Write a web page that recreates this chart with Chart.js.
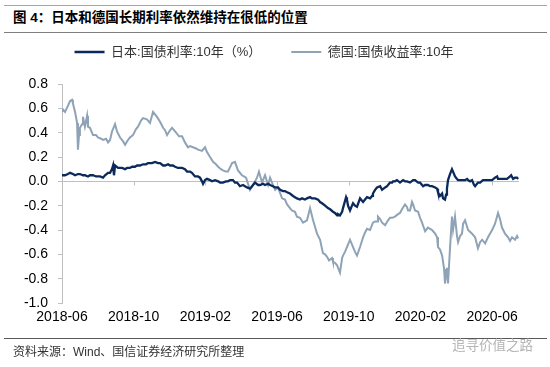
<!DOCTYPE html>
<html><head><meta charset="utf-8">
<script src="https://cdn.jsdelivr.net/npm/chart.js@4/dist/chart.umd.min.js"></script>
<style>
html,body{margin:0;padding:0;background:#fff;}
#wrap{position:relative;width:550px;height:367px;overflow:hidden;background:#fff;}
#c{position:absolute;left:0;top:0;}
.hl{position:absolute;left:4px;width:543px;height:0;}
#title{position:absolute;left:13px;top:9px;font:bold 13.5px "Liberation Sans","Noto Sans CJK SC";color:#000;white-space:nowrap;line-height:18px;}
#src{position:absolute;left:13px;top:344px;font:12px "Liberation Sans","Noto Sans CJK SC";color:#333;white-space:nowrap;line-height:16px;}
#wm{position:absolute;left:452px;top:335px;font:13.5px "Noto Sans CJK SC";color:#b5b5b5;white-space:nowrap;line-height:18px;}
</style></head>
<body>
<div id="wrap">
<div class="hl" style="top:5px;border-top:1px solid #a6a6a6;"></div>
<div id="title">图&nbsp;4：日本和德国长期利率依然维持在很低的位置</div>
<div class="hl" style="top:32px;border-top:1px solid #7f7f7f;"></div>
<canvas id="c" width="550" height="367"></canvas>
<div class="hl" style="top:338px;border-top:1px solid #595959;"></div>
<div id="src">资料来源：Wind、国信证券经济研究所整理</div>
<div id="wm">追寻价值之路</div>
</div>
<script>
// x positions: months since 2018-06
const tickMonths = [0,4,8,12,16,20,24];
const tickLabels = ['2018-06','2018-10','2019-02','2019-06','2019-10','2020-02','2020-06'];
const seriesNames = ['日本:国债利率:10年（%）','德国:国债收益率:10年'];

const jpMonths = [0.00,0.17,0.33,0.45,0.61,0.73,0.89,1.00,1.17,1.28,1.45,1.56,1.73,1.90,2.12,2.29,2.40,2.57,2.68,2.79,2.85,2.90,2.96,3.13,3.35,3.52,3.63,3.79,3.91,4.07,4.19,4.35,4.52,4.69,4.80,4.91,5.02,5.19,5.36,5.47,5.64,5.75,5.92,6.03,6.19,6.31,6.47,6.70,6.86,6.98,7.14,7.25,7.42,7.59,7.70,7.81,7.87,7.98,8.09,8.26,8.37,8.54,8.71,8.82,8.98,9.15,9.26,9.38,9.54,9.65,9.77,9.93,10.10,10.32,10.49,10.66,10.77,10.94,11.05,11.22,11.33,11.50,11.61,11.77,11.89,12.05,12.17,12.33,12.44,12.56,12.72,12.89,13.00,13.11,13.28,13.39,13.56,13.67,13.84,13.95,14.12,14.29,14.40,14.51,14.68,14.84,14.96,15.12,15.23,15.35,15.40,15.51,15.63,15.68,15.85,15.90,15.96,16.07,16.18,16.24,16.35,16.46,16.63,16.74,16.80,16.91,17.02,17.19,17.30,17.35,17.47,17.58,17.75,17.86,17.91,18.03,18.14,18.30,18.42,18.47,18.58,18.69,18.86,19.03,19.14,19.25,19.42,19.59,19.70,19.87,19.98,20.15,20.26,20.42,20.54,20.65,20.82,20.93,20.98,21.09,21.21,21.26,21.37,21.43,21.48,21.54,21.65,21.76,21.82,21.93,22.04,22.10,22.21,22.32,22.49,22.60,22.66,22.77,22.88,22.99,23.05,23.21,23.33,23.49,23.72,23.88,24.00,24.16,24.28,24.33,24.44,24.61,24.83,25.00,25.06,25.17,25.28,25.39,25.45];
const jpValues = [0.05,0.05,0.06,0.07,0.06,0.05,0.06,0.06,0.05,0.05,0.04,0.05,0.05,0.04,0.04,0.03,0.05,0.07,0.07,0.10,0.13,0.05,0.13,0.11,0.11,0.10,0.11,0.11,0.12,0.12,0.13,0.13,0.14,0.14,0.15,0.15,0.15,0.16,0.15,0.15,0.13,0.13,0.14,0.13,0.13,0.12,0.11,0.11,0.10,0.08,0.08,0.07,0.04,0.04,0.03,0.00,-0.02,0.01,0.02,0.01,0.00,0.01,0.00,-0.01,-0.01,0.00,0.00,0.01,0.01,-0.01,-0.01,-0.04,-0.03,-0.05,-0.06,-0.03,-0.01,-0.03,-0.03,-0.02,-0.03,-0.02,-0.03,-0.04,-0.05,-0.05,-0.07,-0.08,-0.08,-0.09,-0.10,-0.12,-0.13,-0.14,-0.15,-0.14,-0.15,-0.14,-0.13,-0.14,-0.14,-0.15,-0.17,-0.18,-0.20,-0.22,-0.23,-0.25,-0.26,-0.28,-0.27,-0.28,-0.25,-0.22,-0.13,-0.15,-0.20,-0.24,-0.20,-0.18,-0.20,-0.21,-0.14,-0.16,-0.17,-0.15,-0.13,-0.14,-0.12,-0.10,-0.07,-0.05,-0.04,-0.07,-0.07,-0.05,-0.04,-0.01,-0.01,0.00,0.00,0.01,-0.01,0.01,0.00,0.00,-0.01,0.01,0.01,-0.01,-0.01,-0.04,-0.03,-0.03,-0.04,-0.04,-0.05,-0.06,-0.09,-0.12,-0.10,-0.14,-0.15,-0.11,-0.06,0.01,0.06,0.10,0.08,0.04,0.02,0.01,0.01,0.01,0.01,0.02,0.01,0.00,0.01,-0.03,-0.04,-0.01,-0.01,0.01,0.01,0.01,0.01,0.03,0.04,0.02,0.02,0.02,0.02,0.04,0.05,0.02,0.03,0.03,0.02];

const deMonths = [0.00,0.06,0.17,0.33,0.45,0.56,0.61,0.73,0.84,0.89,0.95,1.00,1.12,1.17,1.28,1.40,1.45,1.56,1.73,1.90,2.01,2.18,2.29,2.46,2.57,2.68,2.79,2.96,3.07,3.24,3.40,3.52,3.68,3.79,3.96,4.13,4.24,4.41,4.52,4.74,4.91,5.08,5.19,5.30,5.47,5.64,5.75,5.86,6.03,6.14,6.31,6.53,6.70,6.86,7.03,7.14,7.31,7.48,7.59,7.81,7.98,8.09,8.26,8.43,8.59,8.71,8.87,8.98,9.15,9.26,9.49,9.65,9.82,10.04,10.27,10.38,10.49,10.66,10.88,10.99,11.16,11.33,11.50,11.61,11.77,11.89,12.05,12.28,12.44,12.56,12.72,12.83,13.00,13.11,13.28,13.45,13.67,13.84,14.01,14.23,14.40,14.56,14.68,14.79,14.90,15.07,15.12,15.23,15.35,15.51,15.63,15.68,15.79,15.90,16.07,16.24,16.35,16.46,16.63,16.80,16.91,17.02,17.19,17.35,17.47,17.58,17.63,17.75,17.86,18.03,18.19,18.30,18.42,18.58,18.75,18.86,18.97,19.14,19.25,19.31,19.42,19.53,19.59,19.70,19.87,19.98,20.09,20.26,20.42,20.54,20.65,20.82,20.93,20.98,21.09,21.21,21.32,21.37,21.43,21.48,21.54,21.65,21.76,21.82,21.93,22.04,22.10,22.21,22.32,22.38,22.49,22.66,22.88,23.05,23.21,23.33,23.44,23.61,23.77,24.00,24.16,24.33,24.44,24.55,24.72,24.89,25.00,25.11,25.28,25.39,25.45];
const deValues = [0.57,0.59,0.57,0.62,0.66,0.67,0.64,0.57,0.48,0.26,0.38,0.44,0.47,0.53,0.45,0.54,0.45,0.44,0.38,0.38,0.36,0.35,0.34,0.35,0.32,0.34,0.41,0.47,0.41,0.36,0.33,0.30,0.34,0.36,0.38,0.43,0.45,0.50,0.52,0.51,0.48,0.57,0.55,0.53,0.49,0.44,0.42,0.38,0.42,0.44,0.41,0.37,0.37,0.32,0.28,0.29,0.28,0.27,0.26,0.25,0.28,0.24,0.20,0.16,0.14,0.12,0.10,0.09,0.08,0.08,0.15,0.16,0.09,0.05,0.03,-0.02,-0.07,-0.03,0.03,0.08,-0.01,0.05,-0.03,0.03,-0.03,-0.07,-0.05,-0.14,-0.15,-0.19,-0.22,-0.24,-0.25,-0.29,-0.30,-0.34,-0.32,-0.22,-0.32,-0.43,-0.48,-0.59,-0.60,-0.62,-0.65,-0.63,-0.66,-0.67,-0.69,-0.75,-0.63,-0.61,-0.58,-0.54,-0.48,-0.54,-0.58,-0.61,-0.54,-0.46,-0.42,-0.39,-0.40,-0.34,-0.33,-0.33,-0.29,-0.31,-0.34,-0.36,-0.32,-0.30,-0.30,-0.29,-0.27,-0.26,-0.23,-0.19,-0.21,-0.24,-0.24,-0.17,-0.19,-0.24,-0.25,-0.30,-0.34,-0.41,-0.38,-0.39,-0.40,-0.43,-0.46,-0.54,-0.56,-0.61,-0.72,-0.84,-0.76,-0.71,-0.84,-0.55,-0.29,-0.40,-0.29,-0.45,-0.50,-0.45,-0.43,-0.35,-0.32,-0.40,-0.43,-0.46,-0.55,-0.50,-0.48,-0.51,-0.46,-0.40,-0.35,-0.26,-0.31,-0.38,-0.43,-0.46,-0.49,-0.46,-0.48,-0.45,-0.47];

const yTicks = [-1.0,-0.8,-0.6,-0.4,-0.2,0.0,0.2,0.4,0.6,0.8];

function pts(xs, ys){ const n=Math.min(xs.length,ys.length); const a=[]; for(let i=0;i<n;i++) a.push({x:xs[i],y:ys[i]}); return a; }

const zeroLine = {
  id:'zeroLine',
  beforeDatasetsDraw(chart){
    const {ctx, chartArea, scales:{x,y}} = chart;
    const py = Math.round(y.getPixelForValue(0)) + 0.5;
    ctx.save();
    ctx.strokeStyle = '#bfbfbf';
    ctx.lineWidth = 1;
    ctx.beginPath();
    ctx.moveTo(chartArea.left, py);
    ctx.lineTo(chartArea.right, py);
    tickMonths.forEach(m => {
      if (m === 0) return;
      const px = Math.round(x.getPixelForValue(m)) + 0.5;
      ctx.moveTo(px, py);
      ctx.lineTo(px, py + 4);
    });
    ctx.stroke();
    ctx.restore();
  }
};

new Chart(document.getElementById('c'), {
  type:'line',
  data:{
    datasets:[
      {label:seriesNames[0], data:pts(jpMonths,jpValues), borderColor:'#0b2a5b', backgroundColor:'#0b2a5b', borderWidth:2.3, pointRadius:0, tension:0},
      {label:seriesNames[1], data:pts(deMonths,deValues), borderColor:'#8fa3b7', backgroundColor:'#8fa3b7', borderWidth:2, pointRadius:0, tension:0}
    ]
  },
  options:{
    responsive:false, animation:false, devicePixelRatio:1,
    layout:{padding:{left:9,right:31,top:15.5,bottom:26}},
    plugins:{
      tooltip:{enabled:false},
      legend:{
        display:true, position:'top',
        labels:{
          usePointStyle:true, pointStyle:'line', pointStyleWidth:30, boxHeight:13,
          padding:30, color:'#333',
          font:{family:'"Liberation Sans","Noto Sans CJK SC"', size:13}
        }
      },
      subtitle:{
        display:true, text:'', position:'top', weight:500,
        font:{size:1}, padding:{top:7, bottom:7.3}
      }
    },
    scales:{
      x:{
        type:'linear', min:0, max:25.5,
        afterBuildTicks(axis){ axis.ticks = tickMonths.map(v=>({value:v})); },
        afterFit(axis){ axis.height = 38; },
        ticks:{ callback:(v)=>{ const i=tickMonths.indexOf(v); return i>=0?tickLabels[i]:''; }, color:'#000', padding:6, maxRotation:0, autoSkip:false,
          font:{family:'"Liberation Sans",Arial', size:14} },
        grid:{display:false, drawTicks:false},
        border:{display:false}
      },
      y:{
        min:-1.0, max:0.8,
        afterBuildTicks(axis){ axis.ticks = yTicks.map(v=>({value:v})); },
        afterFit(axis){ axis.width = 53; },
        ticks:{ callback:(v)=>Number(v).toFixed(1), color:'#000', padding:10,
          font:{family:'"Liberation Sans",Arial', size:14} },
        grid:{drawOnChartArea:false, drawTicks:true, tickLength:4, color:'#bfbfbf'},
        border:{display:true, color:'#bfbfbf', width:1}
      }
    }
  },
  plugins:[zeroLine]
});
</script>
</body></html>
